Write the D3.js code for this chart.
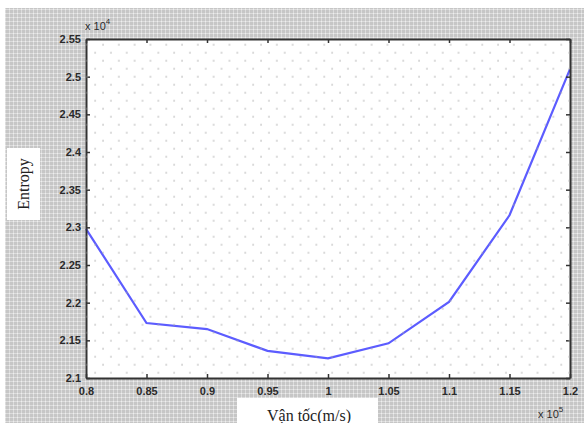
<!DOCTYPE html>
<html>
<head>
<meta charset="utf-8">
<script src="https://cdn.jsdelivr.net/npm/d3@7"></script>
<style>
  body { margin: 0; background: #fff; }
  svg { display: block; }
  .tick text { font-family: "Liberation Sans", Arial, sans-serif; font-size: 11px; font-weight: bold; fill: #2a2a2a; }
</style>
</head>
<body>
<div id="chart"></div>
<script>
// Data (x in units of 10^5, y in units of 10^4)
var velocity = [0.8, 0.85, 0.9, 0.95, 1, 1.05, 1.1, 1.15, 1.2];
var entropy = [2.298, 2.173, 2.165, 2.136, 2.126, 2.146, 2.201, 2.316, 2.510];

var xTickValues = [0.8, 0.85, 0.9, 0.95, 1, 1.05, 1.1, 1.15, 1.2];
var yTickValues = [2.1, 2.15, 2.2, 2.25, 2.3, 2.35, 2.4, 2.45, 2.5, 2.55];

var svgWidth = 584;
var svgHeight = 423;

var margin = { top: 39, right: 14, bottom: 45, left: 86 };
var chartWidth = svgWidth - margin.left - margin.right;
var chartHeight = svgHeight - margin.top - margin.bottom;

var svg = d3.select("#chart")
  .append("svg")
  .attr("width", svgWidth)
  .attr("height", svgHeight);

// patterns: grey figure background and dotted grid
var defs = svg.append("defs");
var bg = defs.append("pattern")
  .attr("id", "bgPat")
  .attr("patternUnits", "userSpaceOnUse")
  .attr("width", 4).attr("height", 4);
bg.append("rect").attr("width", 4).attr("height", 4).attr("fill", "#c6c6c6");
bg.append("rect").attr("x", 0).attr("y", 1).attr("width", 4).attr("height", 1).attr("fill", "#dcdcdc");
bg.append("rect").attr("x", 1).attr("y", 0).attr("width", 1).attr("height", 4).attr("fill", "#dcdcdc");
bg.append("rect").attr("x", 1).attr("y", 1).attr("width", 1).attr("height", 1).attr("fill", "#eeeeee");

var dots = defs.append("pattern")
  .attr("id", "dotPat")
  .attr("patternUnits", "userSpaceOnUse")
  .attr("x", 0.3).attr("y", 4.7)
  .attr("width", 15.8).attr("height", 16);
dots.append("rect").attr("x", -0.6).attr("y", -0.6).attr("width", 1.3).attr("height", 1.3).attr("fill", "#a8a8a8");
dots.append("rect").attr("x", 7.3).attr("y", 7.4).attr("width", 1.3).attr("height", 1.3).attr("fill", "#a8a8a8");
dots.append("rect").attr("x", 15.2).attr("y", -0.6).attr("width", 1.3).attr("height", 1.3).attr("fill", "#a8a8a8");
dots.append("rect").attr("x", -0.6).attr("y", 15.4).attr("width", 1.3).attr("height", 1.3).attr("fill", "#a8a8a8");
dots.append("rect").attr("x", 15.2).attr("y", 15.4).attr("width", 1.3).attr("height", 1.3).attr("fill", "#a8a8a8");

svg.append("rect")
  .attr("x", 5).attr("y", 8)
  .attr("width", svgWidth - 5).attr("height", svgHeight - 8)
  .attr("fill", "url(#bgPat)");

var chartGroup = svg.append("g")
  .attr("transform", `translate(${margin.left}, ${margin.top})`);

// scales
var xLinearScale = d3.scaleLinear()
  .range([0, chartWidth])
  .domain([0.8, 1.2]);

var yLinearScale = d3.scaleLinear()
  .range([chartHeight, 0])
  .domain([2.1, 2.55]);

// plot area
chartGroup.append("rect")
  .attr("width", chartWidth)
  .attr("height", chartHeight)
  .attr("fill", "#fff");

svg.append("rect")
  .attr("x", margin.left).attr("y", margin.top)
  .attr("width", chartWidth).attr("height", chartHeight)
  .attr("fill", "url(#dotPat)");

// line
var line = d3.line()
  .x(function (d, i) { return xLinearScale(velocity[i]) })
  .y(function (d) { return yLinearScale(d) });

chartGroup.append("path")
  .datum(entropy)
  .attr("d", line)
  .attr("fill", "none")
  .attr("stroke", "#5c5cff")
  .attr("stroke-width", 2.2);

// axes (ticks point inward)
var fmt = function (d) { return String(+d.toFixed(2)) };

var bottomAxis = d3.axisBottom(xLinearScale)
  .tickValues(xTickValues).tickFormat(fmt)
  .tickSizeInner(-4).tickSizeOuter(0).tickPadding(9);
var leftAxis = d3.axisLeft(yLinearScale)
  .tickValues(yTickValues).tickFormat(fmt)
  .tickSizeInner(-4).tickSizeOuter(0).tickPadding(5);
var topAxis = d3.axisTop(xLinearScale)
  .tickValues(xTickValues).tickFormat("")
  .tickSizeInner(-4).tickSizeOuter(0);
var rightAxis = d3.axisRight(yLinearScale)
  .tickValues(yTickValues).tickFormat("")
  .tickSizeInner(-4).tickSizeOuter(0);

var xAxis = chartGroup.append("g")
  .attr("transform", `translate(0, ${chartHeight})`)
  .call(bottomAxis);
var yAxis = chartGroup.append("g")
  .call(leftAxis);
chartGroup.append("g").call(topAxis);
chartGroup.append("g")
  .attr("transform", `translate(${chartWidth}, 0)`)
  .call(rightAxis);

chartGroup.selectAll(".domain")
  .attr("stroke", "#333")
  .attr("stroke-width", 2);
chartGroup.selectAll(".tick line")
  .attr("stroke", "#333")
  .attr("stroke-width", 1.5);

// exponent labels
var expText = svg.append("text")
  .attr("x", 85).attr("y", 30)
  .attr("font-family", "Liberation Sans, Arial, sans-serif")
  .attr("font-size", 11)
  .attr("fill", "#2a2a2a");
expText.append("tspan").text("x 10");
expText.append("tspan").attr("font-size", 8).attr("dy", -6).text("4");

var expText2 = svg.append("text")
  .attr("x", 538).attr("y", 418)
  .attr("font-family", "Liberation Sans, Arial, sans-serif")
  .attr("font-size", 11)
  .attr("fill", "#2a2a2a");
expText2.append("tspan").text("x 10");
expText2.append("tspan").attr("font-size", 8).attr("dy", -6).text("5");

// axis labels in white boxes
svg.append("rect")
  .attr("x", 7).attr("y", 148)
  .attr("width", 33).attr("height", 72)
  .attr("fill", "#fff");
svg.append("text")
  .attr("transform", "translate(29, 184) rotate(-90)")
  .attr("text-anchor", "middle")
  .attr("font-family", "Liberation Serif, Times New Roman, serif")
  .attr("font-size", 16)
  .attr("fill", "#222")
  .text("Entropy");

svg.append("rect")
  .attr("x", 237).attr("y", 398)
  .attr("width", 141).attr("height", 25)
  .attr("fill", "#fff");
svg.append("text")
  .attr("x", 309).attr("y", 421)
  .attr("text-anchor", "middle")
  .attr("font-family", "Liberation Serif, Times New Roman, serif")
  .attr("font-size", 16)
  .attr("fill", "#222")
  .text("Vận tốc(m/s)");
</script>
</body>
</html>
